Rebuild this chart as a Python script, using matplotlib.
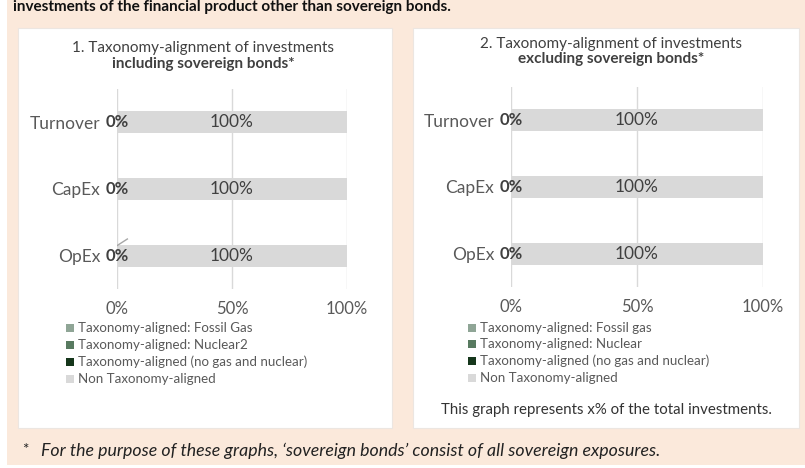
import matplotlib
matplotlib.use("Agg")
import matplotlib.pyplot as plt
from matplotlib.patches import Rectangle
from matplotlib.lines import Line2D

plt.rcParams['font.family'] = ['Lato', 'DejaVu Sans']

W, H = 805, 468

categories = ["Turnover", "CapEx", "OpEx"]
series_names_1 = ["Taxonomy-aligned: Fossil Gas", "Taxonomy-aligned: Nuclear2",
                  "Taxonomy-aligned (no gas and nuclear)", "Non Taxonomy-aligned"]
series_names_2 = ["Taxonomy-aligned: Fossil gas", "Taxonomy-aligned: Nuclear",
                  "Taxonomy-aligned (no gas and nuclear)", "Non Taxonomy-aligned"]
fossil_gas_1 = [0, 0, 0]
nuclear_1 = [0, 0, 0]
aligned_1 = [0, 0, 0]
non_aligned_1 = [100, 100, 100]
fossil_gas_2 = [0, 0, 0]
nuclear_2 = [0, 0, 0]
aligned_2 = [0, 0, 0]
non_aligned_2 = [100, 100, 100]
xticks = [0, 50, 100]
xtick_labels = ["0%", "50%", "100%"]

colors = ["#8fa596", "#587a60", "#15361b", "#d9d9d9"]

fig = plt.figure(figsize=(W / 100, H / 100), dpi=100)
fig.patch.set_facecolor("white")

def px_rect(x0, y0, x1, y1):
    return [x0 / W, 1 - y1 / H, (x1 - x0) / W, (y1 - y0) / H]

# peach background
bg = fig.add_axes([0, 0, 1, 1], zorder=-10)
bg.set_xlim(0, W); bg.set_ylim(H, 0); bg.axis("off")
bg.add_patch(Rectangle((7, 0), W - 7, 465, facecolor="#fbe9db", edgecolor="none"))
for (x0, y0, x1, y1) in [(18, 28, 392, 428), (413, 28, 799, 428)]:
    bg.add_patch(Rectangle((x0 + 1, y0 + 1), x1 - x0, y1 - y0, facecolor="#f1ddd0", edgecolor="none"))
    bg.add_patch(Rectangle((x0, y0), x1 - x0, y1 - y0, facecolor="white", edgecolor="#ece6e1", lw=0.8))

# header text (cut in the original; kept visible here)
fig.text(13 / W, 1 - 7 / H, "investments of the financial product other than sovereign bonds.",
         fontsize=11, fontweight="bold", color="#111111", ha="left", va="center")

def draw_panel(rect, series, names, title1, title2, tcenter, ty1, ty2,
               leg_sq_x, leg_txt_x, leg_ys, leader=False):
    ax = fig.add_axes(rect)
    y = list(range(len(categories)))[::-1]
    left = [0] * len(categories)
    for vals, c in zip(series, colors):
        ax.barh(y, vals, left=left, height=0.33, color=c, edgecolor="none", zorder=2)
        left = [l + v for l, v in zip(left, vals)]
    ax.set_xlim(0, 100)
    ax.set_ylim(-0.5, len(categories) - 0.5)
    ax.set_xticks(xticks)
    ax.set_xticklabels(xtick_labels, fontsize=12, color="#595959")
    ax.set_yticks(y)
    ax.set_yticklabels(categories, fontsize=12.5, color="#595959")
    ax.tick_params(axis="x", length=0, pad=9)
    ax.tick_params(axis="y", length=0, pad=12)
    for s in ax.spines.values():
        s.set_visible(False)
    ax.grid(axis="x", color="#d9d9d9", lw=1, zorder=1)
    ax.set_facecolor("none")
    # data labels
    for yi, a, n in zip(y, series[2], series[3]):
        ax.text(a / 2, yi, f"{a}%", ha="center", va="center", fontsize=12,
                fontweight="bold", color="#404040", zorder=3)
        ax.text(a + n / 2, yi, f"{n}%", ha="center", va="center", fontsize=12.5,
                color="#404040", zorder=3)
    if leader:
        ax.add_line(Line2D([0, 4.5], [0.15, 0.25], color="#a6a6a6", lw=1, zorder=3))
    # titles
    fig.text(tcenter / W, 1 - ty1 / H, title1, ha="center", va="center", fontsize=11, color="#404040")
    fig.text(tcenter / W, 1 - ty2 / H, title2, ha="center", va="center", fontsize=11,
             fontweight="bold", color="#404040")
    # legend
    for nm, c, ly in zip(names, colors, leg_ys):
        bg.add_patch(Rectangle((leg_sq_x, ly - 4), 8, 8, facecolor=c, edgecolor="none"))
        fig.text(leg_txt_x / W, 1 - ly / H, nm, ha="left", va="center", fontsize=9.6, color="#595959")
    return ax

draw_panel(px_rect(117, 89, 347, 289),
           [fossil_gas_1, nuclear_1, aligned_1, non_aligned_1], series_names_1,
           "1. Taxonomy-alignment of investments", "including sovereign bonds*",
           203, 48, 64, 66, 78, [328, 345, 362, 379], leader=True)
draw_panel(px_rect(511, 87, 763, 287),
           [fossil_gas_2, nuclear_2, aligned_2, non_aligned_2], series_names_2,
           "2. Taxonomy-alignment of investments", "excluding sovereign bonds*",
           611, 44, 59, 468, 480, [328, 344, 361, 378])

fig.text(606 / W, 1 - 410 / H, "This graph represents x% of the total investments.",
         ha="center", va="center", fontsize=10.8, color="#333333")

fig.text(22 / W, 1 - 450 / H, "*", ha="left", va="center", fontsize=11, color="#222222")
fig.text(41 / W, 1 - 451 / H,
         "For the purpose of these graphs, \u2018sovereign bonds\u2019 consist of all sovereign exposures.",
         ha="left", va="center", fontsize=12.8, style="italic", color="#222222")

fig.savefig("out.png", dpi=100)
